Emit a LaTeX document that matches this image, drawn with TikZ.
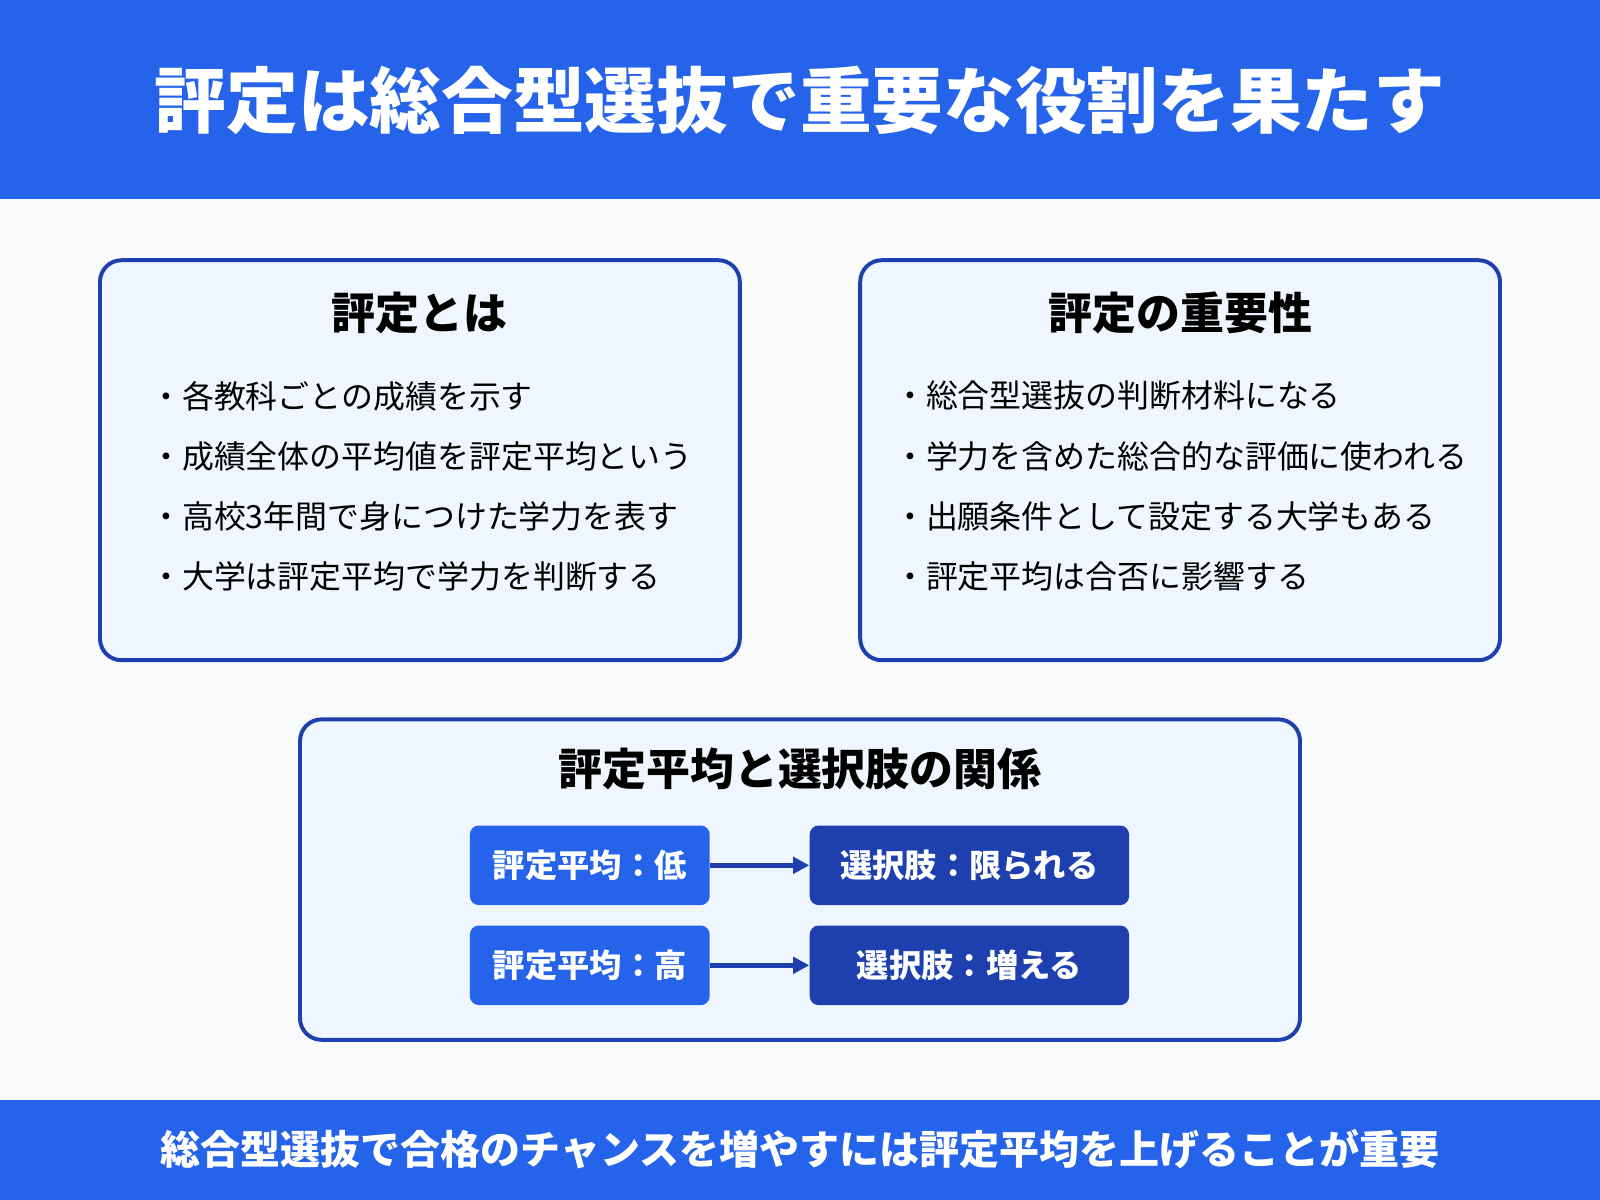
\documentclass[tikz,border=0pt]{standalone}
\usepackage{fontspec}
\setmainfont{Noto Sans CJK JP}
\usetikzlibrary{arrows.meta}
\definecolor{bar}{HTML}{2563EB}
\definecolor{bord}{HTML}{1E40AF}
\definecolor{pane}{HTML}{EFF6FF}
\definecolor{bg}{HTML}{F8FAFC}
\definecolor{dk}{HTML}{1E40AF}
\tikzset{
 panel/.style={draw=bord,line width=2.2pt,fill=pane,rounded corners=12pt},
 head/.style={font=\fontsize{24.5}{28}\selectfont\bfseries},
 item/.style={anchor=west,font=\fontsize{17.8}{21}\selectfont},
 lbox/.style={fill=bar,rounded corners=5pt,text=white,font=\fontsize{18}{21}\selectfont\bfseries,minimum width=235*0.02cm,minimum height=78*0.02cm},
 rbox/.style={fill=dk,rounded corners=5pt,text=white,font=\fontsize{18}{21}\selectfont\bfseries,minimum width=313*0.02cm,minimum height=78*0.02cm},
 arr/.style={draw=dk,line width=2.6pt,-{Triangle[length=9pt,width=9pt]}}
}
\begin{document}
\begin{tikzpicture}[x=0.02cm,y=-0.02cm]
\fill[bg] (0,0) rectangle (1568,1176);
\fill[bar] (0,0) rectangle (1568,195);
\fill[bar] (0,1078) rectangle (1568,1176);
\node[text=white,font=\fontsize{40}{46}\selectfont\bfseries] (title) at (784,98) {評定は総合型選抜で重要な役割を果たす};
\node[text=white,font=\fontsize{22.3}{26}\selectfont\bfseries] (foot) at (784,1126) {総合型選抜で合格のチャンスを増やすには評定平均を上げることが重要};
\draw[panel] (98,255) rectangle (725,647);
\draw[panel] (843,255) rectangle (1470,647);
\draw[panel] (294,705) rectangle (1274,1019);
\node[head] (h1) at (411,307) {評定とは};
\node[head] (h2) at (1157,307) {評定の重要性};
\node[head] (h3) at (784,754) {評定平均と選択肢の関係};
\foreach \t [count=\i] in {各教科ごとの成績を示す,成績全体の平均値を評定平均という,高校3年間で身につけた学力を表す,大学は評定平均で学力を判断する}
  \node[item] (a\i) at (141,329+59*\i) {・\t};
\foreach \t [count=\i] in {総合型選抜の判断材料になる,学力を含めた総合的な評価に使われる,出願条件として設定する大学もある,評定平均は合否に影響する}
  \node[item] (b\i) at (870,329+59*\i) {・\t};
\node[lbox] (l1) at (578,848) {評定平均：低};
\node[lbox] (l2) at (578,946) {評定平均：高};
\node[rbox] (r1) at (950,848) {選択肢：限られる};
\node[rbox] (r2) at (950,946) {選択肢：増える};
\draw[arr] (l1) -- (r1);
\draw[arr] (l2) -- (r2);
\end{tikzpicture}
\end{document}
